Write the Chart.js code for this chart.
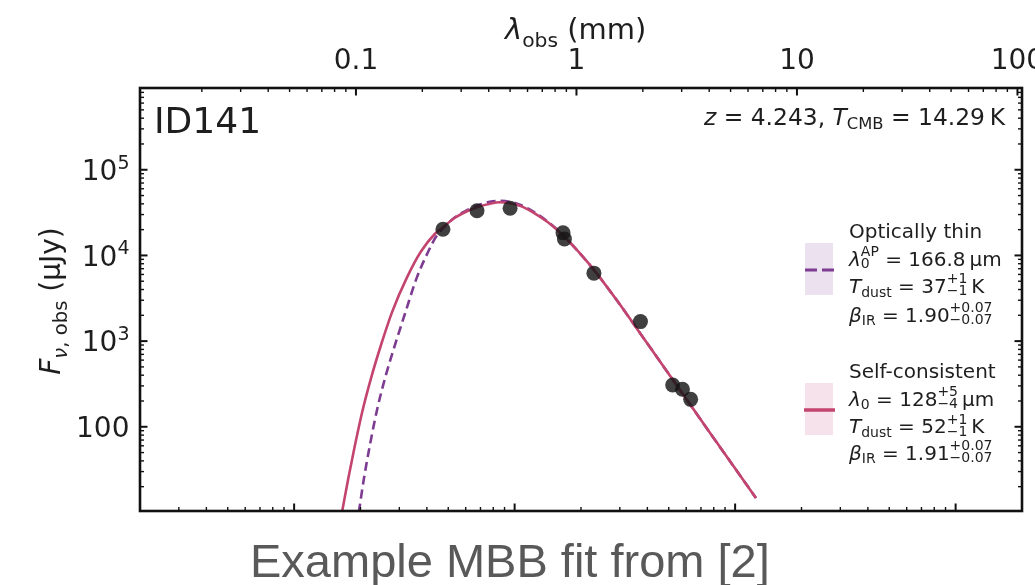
<!DOCTYPE html>
<html>
<head>
<meta charset="utf-8">
<title>ID141 MBB fit</title>
<script src="https://cdn.jsdelivr.net/npm/chart.js@4"></script>
<style>
  html, body { margin: 0; padding: 0; background: #fff; overflow: hidden; }
  #wrap { position: relative; width: 1035px; height: 585px; overflow: hidden; }
  #c { display: block; position: absolute; left: 0; top: 0; }
  #caption {
    position: absolute; left: 250px; top: 534px; white-space: nowrap;
    font-family: "Liberation Sans", Arial, sans-serif; font-size: 47px;
    line-height: 54px; color: #595959;
  }
</style>
</head>
<body>
<div id="wrap">
  <canvas id="c" width="1035" height="585"></canvas>
  <div id="caption">Example MBB fit from [2]</div>
</div>
<script>
// Source and axis limits
const redshift = 4.243;
const restRangeUm = [2, 20000];          // bottom axis, rest-frame wavelength (µm)
const fluxRange = [10.4, 9.0e5];         // F_nu,obs (µJy)

// Tick labels ("a^b" = a with superscript b)
const obsTickLabels = { '-1': '0.1', '0': '1', '1': '10', '2': '100' };
const fluxTickLabels = { '2': '100', '3': '10^3', '4': '10^4', '5': '10^5' };

// Photometry (observed wavelength in mm, flux in µJy)
const photLambdaMm = [0.248, 0.354, 0.500, 0.869, 0.882, 1.200, 1.951, 2.731, 3.025, 3.295];
const photFluxUJy  = [20200, 33200, 35500, 18400, 15600, 6210, 1690, 307, 274, 209];

// Self-consistent MBB model
const selfLambdaMm = [0.0864, 0.0923, 0.0990, 0.1068, 0.1170, 0.1299, 0.1461, 0.1698, 0.1971, 0.2282,
                      0.2480, 0.2812, 0.3120, 0.3538, 0.4053, 0.4498, 0.4996, 0.5542, 0.6349, 0.7425,
                      0.8686, 1.016, 1.200, 1.522, 1.941, 2.711, 3.376, 4.323, 5.513, 6.519];
const selfFluxUJy  = [10, 24.9, 61.1, 150, 368, 901, 2210, 5430, 11100, 17900,
                      21300, 27500, 31900, 36500, 40100, 41700, 40600, 38000, 31900, 24400,
                      17200, 11200, 6780, 3010, 1245, 366, 163, 65.9, 27.1, 14.7];

// Optically thin MBB model
const thinLambdaMm = [0.1030, 0.1087, 0.1157, 0.1241, 0.1354, 0.1503, 0.1680, 0.1884, 0.2128, 0.2306,
                      0.2480, 0.2812, 0.3120, 0.3538, 0.4053, 0.4498, 0.4996, 0.5542, 0.6349, 0.7425,
                      0.8686, 1.016, 1.200, 1.522, 1.941, 2.711, 3.376, 4.323, 5.513, 6.519];
const thinFluxUJy  = [10, 24.9, 61.1, 150, 368, 901, 2210, 5430, 11100, 16500,
                      20700, 27900, 32700, 38000, 42300, 43400, 42300, 39000, 32700, 24700,
                      17200, 11200, 6780, 3010, 1245, 366, 163, 65.9, 27.1, 14.7];

const COL_SELF = '#c3446f';
const COL_THIN = '#7d3c91';
const INK = '#1e1e1e';
const FAMILY = '"DejaVu Sans"';
const TICK_SIZE = 28;

const toXY = (xs, ys) => xs.map((x, i) => ({ x, y: ys[i] }));

function decadeLabel(map) {
  return v => {
    const l = Math.log10(v), r = Math.round(l);
    return Math.abs(l - r) < 1e-6 && map[String(r)] !== undefined ? map[String(r)] : '';
  };
}
const fluxLabel = decadeLabel(fluxTickLabels);

// Positions of log ticks (1..9 x 10^n) inside a scale's range
function logTickValues(min, max) {
  const out = [];
  for (let e = Math.floor(Math.log10(min)); e <= Math.ceil(Math.log10(max)); e++) {
    for (let k = 1; k <= 9; k++) {
      const v = k * Math.pow(10, e);
      if (v >= min * 0.9999 && v <= max * 1.0001) out.push({ v, major: k === 1 });
    }
  }
  return out;
}

// Small rich-text helper: italic runs, subscripts, stacked super/subscripts
function fontStr(size, italic) { return (italic ? 'italic ' : '') + size.toFixed(2) + 'px ' + FAMILY; }
function layoutRich(ctx, parts, size) {
  let w = 0; const items = [];
  for (const p of parts) {
    if (p.sup !== undefined) {
      const s = size * (p.sc || 0.7);
      ctx.font = fontStr(s, p.it);
      const f = ctx.font;
      const w1 = ctx.measureText(p.sup).width, w2 = ctx.measureText(p.sub).width;
      items.push({ x: w, t: p.sup, f, dy: (p.supDy !== undefined ? p.supDy : -0.48) * size });
      items.push({ x: w, t: p.sub, f, dy: (p.subDy !== undefined ? p.subDy : 0.12) * size });
      w += Math.max(w1, w2);
    } else {
      const s = size * (p.sc || 1);
      ctx.font = fontStr(s, p.it);
      items.push({ x: w, t: p.t, f: ctx.font, dy: (p.dy || 0) * size });
      w += ctx.measureText(p.t).width;
    }
  }
  return { w, items };
}
function drawRich(ctx, x, y, parts, size, align) {
  const L = layoutRich(ctx, parts, size);
  const x0 = align === 'right' ? x - L.w : align === 'center' ? x - L.w / 2 : x;
  ctx.textAlign = 'left';
  ctx.textBaseline = 'alphabetic';
  for (const it of L.items) { ctx.font = it.f; ctx.fillText(it.t, x0 + it.x, y + it.dy); }
}
function powerParts(label) {
  const [base, exp] = label.split('^');
  return exp === undefined ? [{ t: base }] : [{ t: base }, { t: exp, sc: 0.68, dy: -0.4 }];
}

// Frame, inward ticks, flux tick labels, annotations and legend
const decorations = {
  id: 'decorations',
  afterDraw(chart) {
    const { ctx, chartArea: a, scales } = chart;
    ctx.save();
    ctx.strokeStyle = '#111';
    ctx.lineCap = 'butt';

    const tick = (x1, y1, x2, y2, major) => {
      ctx.lineWidth = major ? 2 : 1.4;
      ctx.beginPath(); ctx.moveTo(x1, y1); ctx.lineTo(x2, y2); ctx.stroke();
    };
    const MAJ = 7.5, MIN = 4;
    for (const t of logTickValues(scales.xObs.min, scales.xObs.max)) {
      const px = scales.xObs.getPixelForValue(t.v);
      tick(px, a.top, px, a.top + (t.major ? MAJ : MIN), t.major);
    }
    for (const t of logTickValues(scales.xRest.min, scales.xRest.max)) {
      const px = scales.xRest.getPixelForValue(t.v);
      tick(px, a.bottom, px, a.bottom - (t.major ? MAJ : MIN), t.major);
    }
    for (const t of logTickValues(scales.y.min, scales.y.max)) {
      const py = scales.y.getPixelForValue(t.v);
      tick(a.left, py, a.left + (t.major ? MAJ : MIN), py, t.major);
      tick(a.right, py, a.right - (t.major ? MAJ : MIN), py, t.major);
    }
    ctx.lineWidth = 2.6;
    ctx.strokeRect(a.left, a.top, a.right - a.left, a.bottom - a.top);

    ctx.fillStyle = INK;
    // flux tick labels with raised exponents
    for (const t of scales.y.ticks) {
      const label = fluxLabel(t.value);
      if (!label) continue;
      const py = scales.y.getPixelForValue(t.value);
      drawRich(ctx, a.left - 10.5, py + 0.3645 * TICK_SIZE, powerParts(label), TICK_SIZE, 'right');
    }

    // panel label and redshift
    ctx.font = '36px ' + FAMILY;
    ctx.textAlign = 'left'; ctx.textBaseline = 'alphabetic';
    ctx.fillText('ID141', 154, 133);
    drawRich(ctx, 1005, 124.5, [
      { t: 'z', it: true }, { t: ' = 4.243, ' }, { t: 'T', it: true },
      { t: 'CMB', sc: 0.7, dy: 0.2 }, { t: ' = 14.29\u2009K' }
    ], 23.4, 'right');

    // axis titles
    drawRich(ctx, 505, 38.5, [
      { t: 'λ', it: true }, { t: 'obs', sc: 0.7, dy: 0.28 }, { t: ' (mm)' }
    ], 29, 'left');
    ctx.save();
    ctx.translate(60, 301);
    ctx.rotate(-Math.PI / 2);
    drawRich(ctx, 0, 0, [
      { t: 'F', it: true }, { t: 'ν', it: true, sc: 0.7, dy: 0.25 }, { t: ', obs', sc: 0.7, dy: 0.25 },
      { t: ' (μJy)' }
    ], 28, 'center');
    ctx.restore();

    // legend handles
    ctx.fillStyle = '#ece1ef';
    ctx.fillRect(805, 243, 28, 52);
    ctx.fillStyle = '#f5e2ea';
    ctx.fillRect(805, 383, 28, 52);
    ctx.strokeStyle = COL_THIN; ctx.lineWidth = 3;
    ctx.setLineDash([12, 5]);
    ctx.beginPath(); ctx.moveTo(805, 270); ctx.lineTo(835, 270); ctx.stroke();
    ctx.setLineDash([]);
    ctx.strokeStyle = COL_SELF; ctx.lineWidth = 3.5;
    ctx.beginPath(); ctx.moveTo(804, 410); ctx.lineTo(835, 410); ctx.stroke();

    // legend text
    ctx.fillStyle = INK;
    const LX = 849, LS = 20;
    drawRich(ctx, LX, 238, [{ t: 'Optically thin' }], LS);
    drawRich(ctx, LX, 266, [{ t: 'λ', it: true }, { sup: 'AP', sub: '0' }, { t: ' = 166.8\u2009μm' }], LS);
    drawRich(ctx, LX, 293, [{ t: 'T', it: true }, { t: 'dust', sc: 0.7, dy: 0.2 }, { t: ' = 37' },
      { sup: '+1', sub: '−1' }, { t: '\u2009K' }], LS);
    drawRich(ctx, LX, 321.5, [{ t: 'β', it: true }, { t: 'IR', sc: 0.7, dy: 0.15 }, { t: ' = 1.90' },
      { sup: '+0.07', sub: '−0.07' }], LS);
    drawRich(ctx, LX, 378.3, [{ t: 'Self-consistent' }], LS);
    drawRich(ctx, LX, 406, [{ t: 'λ', it: true }, { t: '0', sc: 0.7, dy: 0.15 }, { t: ' = 128' },
      { sup: '+5', sub: '−4' }, { t: '\u2009μm' }], LS);
    drawRich(ctx, LX, 433.3, [{ t: 'T', it: true }, { t: 'dust', sc: 0.7, dy: 0.2 }, { t: ' = 52' },
      { sup: '+1', sub: '−1' }, { t: '\u2009K' }], LS);
    drawRich(ctx, LX, 460, [{ t: 'β', it: true }, { t: 'IR', sc: 0.7, dy: 0.15 }, { t: ' = 1.91' },
      { sup: '+0.07', sub: '−0.07' }], LS);
    ctx.restore();
  }
};

const tickFont = { family: 'DejaVu Sans', size: TICK_SIZE };

new Chart(document.getElementById('c'), {
  type: 'scatter',
  data: {
    datasets: [
      {
        label: 'Photometry',
        data: toXY(photLambdaMm, photFluxUJy),
        xAxisID: 'xObs', yAxisID: 'y',
        showLine: false,
        pointRadius: 7.5, pointHoverRadius: 7.5,
        pointBackgroundColor: 'rgba(22,22,22,0.82)', pointBorderWidth: 0,
        order: 0
      },
      {
        label: 'Self-consistent',
        data: toXY(selfLambdaMm, selfFluxUJy),
        xAxisID: 'xObs', yAxisID: 'y',
        showLine: true, pointRadius: 0,
        borderColor: COL_SELF, borderWidth: 2.6,
        cubicInterpolationMode: 'monotone',
        order: 1
      },
      {
        label: 'Optically thin',
        data: toXY(thinLambdaMm, thinFluxUJy),
        xAxisID: 'xObs', yAxisID: 'y',
        showLine: true, pointRadius: 0,
        borderColor: COL_THIN, borderWidth: 2.6, borderDash: [9, 5],
        cubicInterpolationMode: 'monotone',
        order: 2
      }
    ]
  },
  options: {
    responsive: false, animation: false, devicePixelRatio: 1, events: [],
    layout: { padding: { left: 0, right: 13, top: 0, bottom: 0 }, autoPadding: false },
    plugins: { legend: { display: false }, tooltip: { enabled: false } },
    scales: {
      xObs: {
        axis: 'x', type: 'logarithmic', position: 'top',
        min: restRangeUm[0] * (1 + redshift) / 1000,
        max: restRangeUm[1] * (1 + redshift) / 1000,
        grid: { display: false, drawTicks: false }, border: { display: false },
        ticks: { autoSkip: false, maxRotation: 0, minRotation: 0, padding: 9, font: tickFont, color: INK,
                 callback: decadeLabel(obsTickLabels) },
        afterFit(s) { s.height = 88; }
      },
      xRest: {
        axis: 'x', type: 'logarithmic', position: 'bottom',
        min: restRangeUm[0], max: restRangeUm[1],
        grid: { display: false, drawTicks: false }, border: { display: false },
        ticks: { display: false },
        afterFit(s) { s.height = 74; }
      },
      y: {
        type: 'logarithmic', position: 'left',
        min: fluxRange[0], max: fluxRange[1],
        grid: { display: false, drawTicks: false }, border: { display: false },
        ticks: { display: false, autoSkip: false, callback: fluxLabel },
        afterFit(s) { s.width = 140; }
      }
    }
  },
  plugins: [decorations]
});
</script>
</body>
</html>
